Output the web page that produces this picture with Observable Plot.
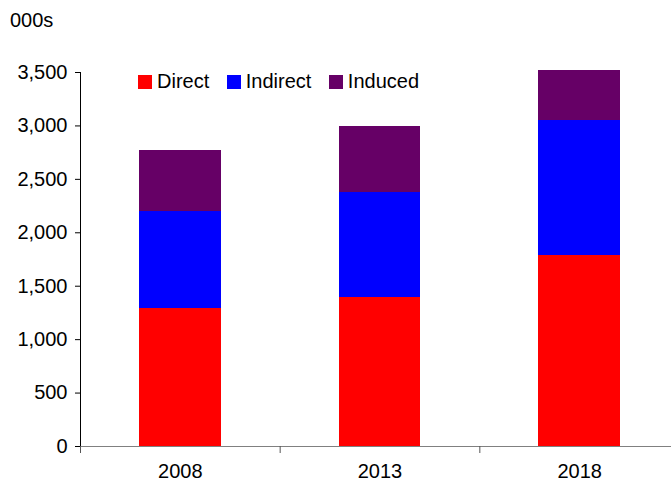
<!DOCTYPE html>
<html>
<head>
<meta charset="utf-8">
<script src="https://cdn.jsdelivr.net/npm/d3@7"></script>
<script src="https://cdn.jsdelivr.net/npm/@observablehq/plot@0.6"></script>
<style>
  html, body { margin: 0; padding: 0; background: #fff; }
  #wrap { position: relative; width: 671px; height: 482px; font-family: "Liberation Sans", Arial, sans-serif; }
  #unit { position: absolute; left: 10px; top: 9px; font-size: 20px; color: #000; }
  #legend { position: absolute; left: 138px; top: 70px; display: flex; font-size: 20px; color: #000; }
  #legend .item { display: flex; align-items: center; margin-right: 17.5px; }
  #legend .sw { width: 14px; height: 14px; margin-right: 5px; }
</style>
</head>
<body>
<div id="wrap">
  <div id="chart"></div>
  <div id="unit">000s</div>
  <div id="legend"></div>
</div>
<script>
const years = ["2008", "2013", "2018"];
const seriesNames = ["Direct", "Indirect", "Induced"];
const direct = [1290, 1390, 1790];
const indirect = [910, 990, 1260];
const induced = [570, 610, 470];
const seriesColors = ["#ff0000", "#0000ff", "#660066"];
const yTicks = [0, 500, 1000, 1500, 2000, 2500, 3000, 3500];

const values = [direct, indirect, induced];
const rows = [];
years.forEach((yr, i) => {
  let base = 0;
  seriesNames.forEach((s, k) => {
    const v = values[k][i];
    rows.push({x1: i, x2: i + 1, y1: base, y2: base + v, series: s, year: yr});
    base += v;
  });
});

const chart = Plot.plot({
  width: 671,
  height: 482,
  marginTop: 72,
  marginBottom: 36,
  marginLeft: 80,
  marginRight: -8,
  style: {fontFamily: "'Liberation Sans', Arial, sans-serif", fontSize: "20px", color: "#000", background: "#fff"},
  x: {type: "linear", domain: [0, years.length], axis: null},
  y: {domain: [0, 3500], axis: null},
  color: {domain: seriesNames, range: seriesColors},
  marks: [
    Plot.rect(rows, {x1: "x1", x2: "x2", y1: "y1", y2: "y2", fill: "series", insetLeft: 59, insetRight: 59, shapeRendering: "crispEdges"}),
    Plot.ruleX([0], {stroke: "#000"}),
    Plot.axisY({ticks: yTicks, tickSize: 5, tickPadding: 8, tickFormat: d3.format(","), fontSize: 20, stroke: "#000"}),
    Plot.ruleY([0], {stroke: "#808080"}),
    Plot.axisX({ticks: d3.range(0, years.length + 1), tickSize: 7, tickFormat: () => "", stroke: "#555"}),
    Plot.axisX({ticks: years.map((d, i) => i + 0.5), tickSize: 0, tickPadding: 17, tickFormat: v => years[Math.floor(v)], fontSize: 20})
  ]
});
document.getElementById("chart").appendChild(chart);

const legend = document.getElementById("legend");
seriesNames.forEach((s, k) => {
  const item = document.createElement("div");
  item.className = "item";
  const sw = document.createElement("div");
  sw.className = "sw";
  sw.style.background = seriesColors[k];
  const label = document.createElement("span");
  label.textContent = s;
  item.appendChild(sw);
  item.appendChild(label);
  legend.appendChild(item);
});
</script>
</body>
</html>
